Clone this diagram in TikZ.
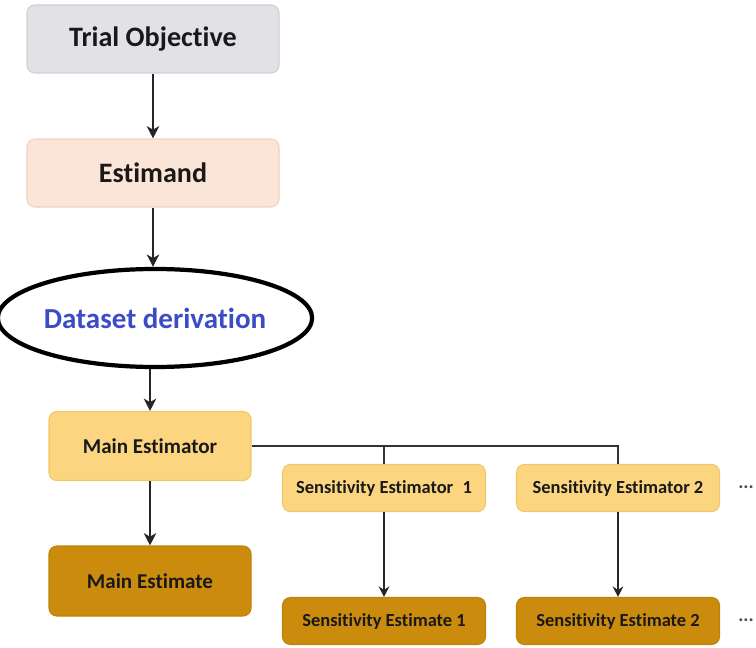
\documentclass[tikz,border=0pt]{standalone}
\usepackage{fontspec}
\setmainfont[Ligatures={NoCommon}]{Carlito}
\usetikzlibrary{arrows.meta,shapes.geometric}

\definecolor{objgray}{HTML}{E2E2E6}
\definecolor{objedge}{HTML}{D0D0D4}
\definecolor{peach}{HTML}{FBE5D6}
\definecolor{peachedge}{HTML}{F0D2BE}
\definecolor{lightgold}{HTML}{FBD580}
\definecolor{lightgoldedge}{HTML}{F2C66A}
\definecolor{darkgold}{HTML}{CB8B0C}
\definecolor{darkgoldedge}{HTML}{BF820A}
\definecolor{dsblue}{HTML}{3B4CC6}

\begin{document}
\begin{tikzpicture}[
        box/.style={rounded corners=4.5pt, line width=0.6pt, align=center,
            font=\bfseries, text=black!90, inner sep=0pt},
        bigbox/.style={box, minimum width=5.04cm, minimum height=1.36cm,
            font=\fontsize{16}{19}\selectfont\bfseries},
        mainbox/.style={box, minimum width=4.04cm, minimum height=1.38cm,
            font=\fontsize{12}{14}\selectfont\bfseries},
        sensbox/.style={box, minimum width=4.06cm, minimum height=0.94cm,
            font=\fontsize{10.5}{12}\selectfont\bfseries},
        more/.style={font=\fontsize{11}{12}\selectfont\bfseries, text=black!70},
        flow/.style={-{Stealth[length=7pt,width=7pt,inset=2pt]}, line width=1.2pt, black!85},
        thinflow/.style={-{Stealth[length=6pt,width=6pt,inset=2pt]}, line width=1pt, black!85},
        branch/.style={line width=1.2pt, black!80}
    ]

    \useasboundingbox (0,0) rectangle (15.12,-12.96);

    % upper chain
    \node[bigbox, fill=objgray, draw=objedge] (objective) at (3.06,-0.78) {Trial Objective};
    \node[bigbox, fill=peach, draw=peachedge] (estimand) at (3.06,-3.46) {Estimand};
    \node[ellipse, draw=black, line width=2.4pt, fill=white,
        minimum width=6cm, minimum height=1.96cm, inner sep=0pt,
        text=dsblue, font=\fontsize{16.5}{19}\selectfont\bfseries]
        (dataset) at (3.10,-6.36) {Dataset derivation};

    % estimators
    \node[mainbox, fill=lightgold, draw=lightgoldedge] (mainor) at (3.0,-8.92) {Main Estimator};
    \node[mainbox, fill=darkgold, draw=darkgoldedge, minimum height=1.40cm] (mainate) at (3.0,-11.62) {Main Estimate};

    \node[sensbox, fill=lightgold, draw=lightgoldedge] (sensor1) at (7.68,-9.76) {Sensitivity Estimator\enspace1};
    \node[sensbox, fill=lightgold, draw=lightgoldedge] (sensor2) at (12.36,-9.76) {Sensitivity Estimator 2};
    \node[sensbox, fill=darkgold, draw=darkgoldedge] (sensate1) at (7.68,-12.42) {Sensitivity Estimate 1};
    \node[sensbox, fill=darkgold, draw=darkgoldedge] (sensate2) at (12.36,-12.42) {Sensitivity Estimate 2};

    \node[more] (dotsor) at (14.92,-9.74) {...};
    \node[more] (dotsate) at (14.92,-12.4) {...};

    % connectors
    \draw[flow] (objective) -- (estimand);
    \draw[flow] (estimand.south) -- (estimand.south |- dataset.north);
    \draw[flow] (mainor.north |- dataset.south) -- (mainor.north);
    \draw[flow] (mainor) -- (mainate);

    \draw[branch] (mainor.east) -| (sensor2.north);
    \draw[branch] (sensor1.north) -- (sensor1.north |- mainor.east);

    \draw[thinflow] (sensor1) -- (sensate1);
    \draw[thinflow] (sensor2) -- (sensate2);

\end{tikzpicture}
\end{document}
